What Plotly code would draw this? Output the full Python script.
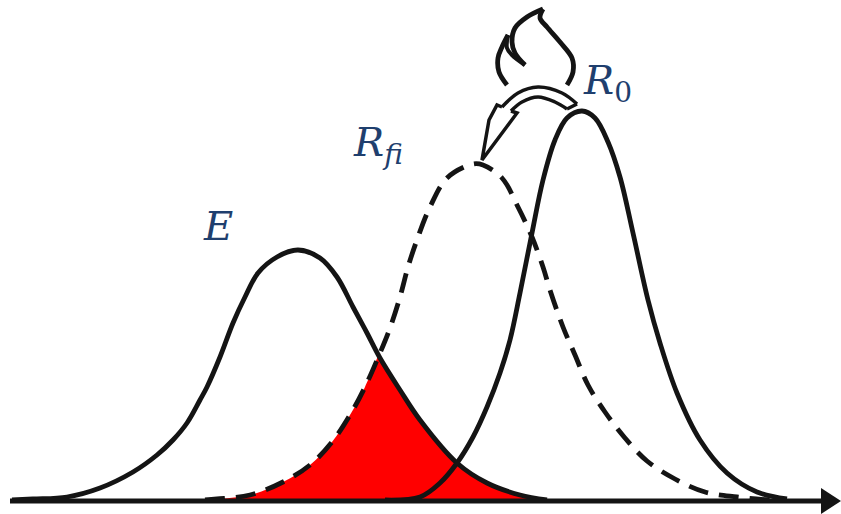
import plotly.graph_objects as go

INK = "#141414"
NAVY = "#1F3F6E"
RED = "#FF0000"

e_x = [12, 33, 67, 100, 133, 157, 173, 187, 200, 207, 220, 233, 245, 258, 277, 298, 320, 337, 353, 367, 380, 400, 420, 457, 487, 520, 547]
e_y = [500, 499, 497, 488, 472, 455, 440, 423, 400, 387, 357, 323, 297, 273, 257, 250, 258, 277, 307, 333, 358, 390, 420, 463, 483, 495, 500]

rfi_x = [205, 217, 250, 283, 310, 332, 350, 365, 380, 390, 400, 408, 418, 430, 447, 473, 483, 502, 518, 532, 543, 550, 563, 575, 588, 605, 625, 647, 675, 705, 737, 770]
rfi_y = [500, 499, 495, 482, 465, 442, 415, 387, 353, 328, 297, 267, 237, 207, 178, 164, 165, 178, 207, 237, 267, 290, 327, 355, 385, 412, 438, 461, 479, 492, 497, 500]

r0_x = [385, 420, 440, 457, 473, 487, 500, 510, 520, 532, 543, 555, 567, 582, 595, 608, 620, 633, 648, 660, 677, 700, 727, 757, 787]
r0_y = [500, 497, 483, 463, 437, 407, 373, 340, 293, 233, 180, 140, 118, 111, 118, 142, 177, 233, 300, 343, 393, 440, 473, 492, 499]

axis_x = [10, 826]
axis_y = [501, 501]
head_x = [821, 841, 821, 821]
head_y = [488, 501, 514, 488]

flame_left_x = [507, 499, 498, 502, 508]
flame_left_y = [85, 72, 58, 47, 35]
flame_notch_x = [508, 507, 512, 525]
flame_notch_y = [35, 48, 55, 65]
flame_inner_x = [525, 515, 512, 515, 527, 543]
flame_inner_y = [65, 53, 42, 28, 17, 9]
flame_right_x = [543, 540, 547, 560, 572, 573, 567]
flame_right_y = [9, 18, 27, 42, 58, 72, 85]

arc_top_x = [577, 562, 538, 518, 502]
arc_top_y = [104, 93, 87, 93, 107]
arrow_head_x = [502, 497, 489, 482, 517, 511]
arrow_head_y = [107, 105, 120, 160, 113, 111]
arc_low_x = [511, 522, 538, 555, 567]
arc_low_y = [111, 102, 97, 102, 109]
arc_end_x = [567, 577]
arc_end_y = [109, 104]

labels = ["<i>E</i>", "<i>R<sub>fi</sub></i>", "<i>R</i><sub>0</sub>"]
label_x = [218, 378, 607]
label_y = [226, 145, 83]

fig = go.Figure()


def stroke(xs, ys, width=4.8, shape="spline", dash=None):
    fig.add_trace(go.Scatter(
        x=xs, y=ys, mode="lines", hoverinfo="skip", showlegend=False,
        line={"color": INK, "width": width, "shape": shape, "dash": dash, "smoothing": 1},
    ))


# red overlap: dashed curve up to the crossing, then back down E
left = [(x, y) for x, y in zip(rfi_x, rfi_y) if 217 <= x <= 380]
right = [(x, y) for x, y in zip(e_x, e_y) if x >= 380]
fig.add_trace(go.Scatter(
    x=[p[0] for p in left + right], y=[p[1] for p in left + right],
    mode="lines", fill="toself", fillcolor=RED, hoverinfo="skip", showlegend=False,
    line={"width": 0, "shape": "spline", "smoothing": 1},
))

stroke(e_x, e_y)
stroke(rfi_x, rfi_y, dash="20px,11px")
stroke(r0_x, r0_y)
stroke(axis_x, axis_y, shape="linear")
fig.add_trace(go.Scatter(
    x=head_x, y=head_y, mode="lines", fill="toself", fillcolor=INK,
    line={"width": 0}, hoverinfo="skip", showlegend=False,
))

stroke(flame_left_x, flame_left_y)
stroke(flame_notch_x, flame_notch_y, width=4)
stroke(flame_inner_x, flame_inner_y)
stroke(flame_right_x, flame_right_y)

stroke(arc_top_x, arc_top_y, width=3.5)
stroke(arrow_head_x, arrow_head_y, width=3.5, shape="linear")
stroke(arc_low_x, arc_low_y, width=3.5)
stroke(arc_end_x, arc_end_y, width=3.5, shape="linear")

for text, x, y in zip(labels, label_x, label_y):
    fig.add_annotation(
        x=x, y=y, text=text, showarrow=False,
        font={"family": "DejaVu Serif", "size": 40, "color": NAVY},
    )

fig.update_layout(
    width=841, height=514,
    margin={"l": 0, "r": 0, "t": 0, "b": 0},
    paper_bgcolor="white", plot_bgcolor="white",
    xaxis={"range": [0, 841], "visible": False},
    yaxis={"range": [514, 0], "visible": False},
)
# the default page body margin would push the figure off the window
fig.write_html(
    "out.html",
    config={"displayModeBar": False},
    post_script="document.body.style.margin = '0';",
)
